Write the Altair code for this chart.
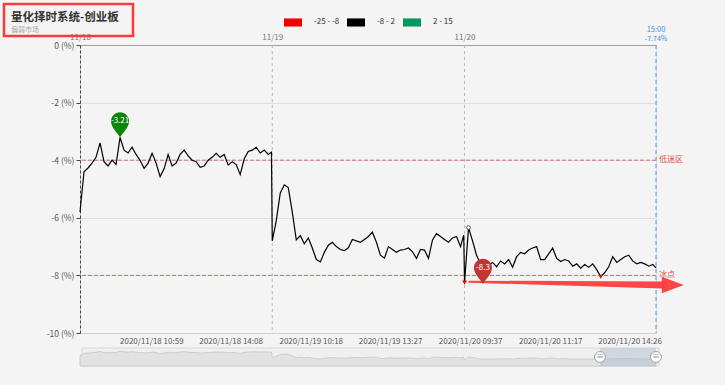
import altair as alt
import pandas as pd

# ---------------- data ----------------
# one value every 5 minutes of trading, last entry = close (15:00) of that day
day1 = [-5.8, -4.4, -4.27, -4.1, -3.9, -3.4, -4.05, -4.2, -4.0, -4.15, -3.21, -3.65,
        -3.75, -3.55, -3.8, -4.0, -4.28, -4.1, -3.76, -4.1, -4.57, -4.3, -3.8, -4.2,
        -4.1, -3.8, -3.65, -3.85, -4.0, -4.05, -4.25, -4.2, -4.0, -3.9, -3.76, -3.9,
        -3.8, -4.17, -4.05, -4.15, -4.5, -3.95, -3.7, -3.65, -3.55, -3.75, -3.65, -3.8,
        -3.72]
day2 = [-6.8, -6.1, -5.14, -4.86, -4.95, -5.8, -6.77, -6.62, -6.9, -6.7, -7.05, -7.45,
        -7.53, -7.2, -6.95, -6.85, -7.0, -7.1, -7.14, -7.04, -6.75, -6.8, -6.85, -6.75,
        -6.65, -6.5, -6.85, -7.3, -7.4, -7.0, -7.1, -7.2, -7.12, -7.1, -7.05, -7.18,
        -7.41, -7.1, -7.12, -7.41, -6.77, -6.55, -6.65, -6.75, -6.85, -6.7, -6.65, -7.0,
        -6.6]
day3 = [-8.25, -6.34, -6.8, -7.3, -7.6, -7.7, -7.64, -7.55, -7.7, -7.5, -7.6, -7.45,
        -7.72, -7.35, -7.2, -7.25, -7.12, -7.05, -7.0, -7.45, -7.45, -7.25, -7.05, -7.41,
        -7.52, -7.45, -7.5, -7.68, -7.6, -7.75, -7.62, -7.72, -7.6, -7.8, -8.05, -7.9,
        -7.7, -7.35, -7.55, -7.45, -7.35, -7.3, -7.5, -7.6, -7.55, -7.6, -7.68, -7.62,
        -7.74]

day_labels = ["11/18", "11/19", "11/20"]
day_start = [0, 240, 480]

time_idx = [89, 188, 288, 387, 487, 587, 686]
time_labels = ["2020/11/18 10:59", "2020/11/18 14:08", "2020/11/19 10:18",
               "2020/11/19 13:27", "2020/11/20 09:37", "2020/11/20 11:17",
               "2020/11/20 14:26"]

y_ticks = [0, -2, -4, -6, -8, -10]
zone_vals = [-4, -8]
zone_labels = ["低迷区", "冰点"]

marker_idx = [50, 503]
marker_vals = [-3.21, -8.3]
marker_colors = ["#0a870a", "#c23531"]

legend_labels = ["-25 - -8", "-8 - 2", "2 - 15"]
legend_colors = ["#f20000", "#000000", "#00995e"]

arrow_idx = [486, 727]
arrow_vals = [-8.22, -8.33]
arrow_head_idx = [740]
arrow_head_val = [-8.33]

zoom_start, zoom_end = 649, 719

title_text = "量化择时系统-创业板"
subtitle_text = "偏弱市场"

# ---------------- build tables ----------------
idx_all, val_all = [], []
for d, vals in enumerate([day1, day2, day3]):
    for j, v in enumerate(vals[:-1]):
        idx_all.append(d * 240 + 5 * j)
        val_all.append(v)
    idx_all.append(d * 240 + 239)
    val_all.append(vals[-1])
df = pd.DataFrame({"idx": idx_all, "v": val_all})

last_idx = int(df.idx.max())
close_df = pd.DataFrame({"idx": [last_idx], "close": [df.v.iloc[-1]]})
dips = df[df.v < -8]
d3 = df[df.idx >= 480]
peak3 = d3.loc[[d3.v.idxmax()]]

days_df = pd.DataFrame({"idx": day_start, "lab": day_labels})
zones_df = pd.DataFrame({"v": zone_vals, "lab": zone_labels, "idx": [last_idx] * 2})
markers_df = pd.DataFrame({"idx": marker_idx, "v": marker_vals, "col": marker_colors})
arrow_df = pd.DataFrame({"idx": arrow_idx, "v": arrow_vals})
head_df = pd.DataFrame({"idx": arrow_head_idx, "v": arrow_head_val})
sel_df = pd.DataFrame({"s": [zoom_start], "e": [zoom_end]})
handles_df = pd.DataFrame({"idx": [zoom_start, zoom_end]})
one = pd.DataFrame({"k": [0]})

# ---------------- styles ----------------
FONT = "Noto Sans CJK SC"
BG = "#f4f4f4"
W, H = 576, 288

PIN = ("M0,0 C-0.25,-0.45 -0.75,-0.8 -0.75,-1.35 "
       "A0.75,0.75 0 1 1 0.75,-1.35 C0.75,-0.8 0.25,-0.45 0,0 Z")
RECT = "M-1,-0.45 L1,-0.45 L1,0.45 L-1,0.45 Z"
TRI = "M-1,-0.75 L1,0 L-1,0.75 Z"

xscale = alt.Scale(domain=[0, last_idx], nice=False, zero=False)
yscale = alt.Scale(domain=[-10, 0], nice=False, zero=False)
slider_y = alt.Scale(domain=[-11.5, -1.5], range=[H + 33, H + 15], nice=False, zero=False)

def X(field="idx:Q", axis=None):
    return alt.X(field, scale=xscale, axis=axis, title=None)

def Y(field="v:Q", axis=None):
    return alt.Y(field, scale=yscale, axis=axis, title=None)

bottom_axis = alt.Axis(
    values=time_idx,
    labelExpr="%s[indexof(%s, datum.value)]" % (str(time_labels), str(time_idx)),
    grid=False, ticks=False, domainColor="#d0d0d0", labelFontSize=8,
    labelColor="#555", labelPadding=4, labelFlush=False, labelOverlap=False,
    labelFont=FONT, title=None)
top_axis = alt.Axis(
    orient="top", values=day_start,
    labelExpr="%s[indexof(%s, datum.value)]" % (str(day_labels), str(day_start)),
    grid=False, ticks=False, domainColor="#a0a0a0", labelFontSize=8,
    labelColor="#777", labelPadding=4, labelFlush=False, labelOverlap=False,
    labelFont=FONT, title=None)
y_axis = alt.Axis(
    orient="left", values=y_ticks, labelExpr="datum.value + ' (%)'", grid=True,
    gridColor="#e0e0e0", domainColor="#444", domainDash=[3, 2], tickColor="#444",
    tickSize=4, labelPadding=2, labelFontSize=8.5, labelColor="#555", labelFont=FONT,
    title=None)

# ---------------- main plot layers ----------------
zone_rules = alt.Chart(zones_df).mark_rule(
    color="#d46a6a", strokeDash=[4, 2], strokeWidth=1).encode(y=Y())
zone_text = alt.Chart(zones_df).mark_text(
    align="left", baseline="middle", dx=3, color="#d9534f", fontSize=8, font=FONT
).encode(x=X(), y=Y(), text="lab:N")

day_rules = alt.Chart(days_df).mark_rule(
    color="#b8b8b8", strokeDash=[3, 3], strokeWidth=1
).encode(x=X(axis=top_axis), opacity=alt.condition("datum.idx > 0", alt.value(1), alt.value(0)))

end_rule = alt.Chart(close_df).mark_rule(
    color="#5b9bd5", strokeDash=[4, 3], strokeWidth=1).encode(x=X())

line = alt.Chart(df).mark_line(color="#000000", strokeWidth=1.2, clip=False).encode(
    x=X(axis=bottom_axis), y=Y(axis=y_axis))

dip_pts = alt.Chart(dips).mark_point(
    shape="triangle-down", filled=True, color="#f20000", size=22, opacity=1
).encode(x=X(), y=Y())

peak_pt = alt.Chart(peak3).mark_point(
    shape="circle", filled=True, fill="#ffffff", stroke="#555", strokeWidth=1,
    size=14, opacity=1).encode(x=X(), y=Y())

arrow = alt.Chart(arrow_df).transform_calculate(
    w="2 + 5 * (datum.idx - %d) / %d" % (arrow_idx[0], arrow_idx[1] - arrow_idx[0])
).mark_trail(color="#ff3b3b", opacity=0.95, clip=False).encode(
    x=X(), y=Y(), size=alt.Size("w:Q", scale=None, legend=None))
arrow_head = alt.Chart(head_df).mark_point(
    shape=TRI, filled=True, color="#ff3b3b", size=484, opacity=0.95, strokeWidth=0,
    clip=False).encode(x=X(), y=Y())

pins = alt.Chart(markers_df).mark_point(
    shape=PIN, filled=True, size=576, opacity=1, strokeWidth=0
).encode(x=X(), y=Y(), fill=alt.Fill("col:N", scale=None, legend=None))
pin_text = alt.Chart(markers_df).transform_calculate(
    lab="toString(datum.v)"
).mark_text(color="#ffffff", fontSize=8, dy=-16, baseline="middle", font=FONT
).encode(x=X(), y=Y(), text="lab:N")

end_time = alt.Chart(close_df).mark_text(
    text="15:00", color="#4a90d9", fontSize=7.5, baseline="middle", font=FONT
).encode(x=X(), y=alt.value(-15))
end_val = alt.Chart(close_df).transform_calculate(
    lab="toString(datum.close) + '%'"
).mark_text(color="#4a90d9", fontSize=7, baseline="middle", font=FONT
).encode(x=X(), y=alt.value(-6.5), text="lab:N")

# ---------------- data-zoom slider ----------------
slider_box = alt.Chart(one).mark_rect(
    fill="#f0f0f0", stroke="#d8d8d8", strokeWidth=1).encode(
    x=alt.value(2), x2=alt.value(W + 3), y=alt.value(H + 15), y2=alt.value(H + 33))
slider_area = alt.Chart(df).mark_area(
    fill="#e2e2e2", stroke="#c4c4c4", strokeWidth=0.8, clip=False).encode(
    x=X(), y=alt.Y("v:Q", scale=slider_y, axis=None), y2=alt.Y2Datum(-11.5))
slider_sel = alt.Chart(sel_df).mark_rect(fill="#a7b7cc", opacity=0.45).encode(
    x=X("s:Q"), x2="e:Q", y=alt.value(H + 15), y2=alt.value(H + 33))
slider_handles = alt.Chart(handles_df).mark_point(
    shape="circle", filled=True, fill="#ffffff", stroke="#a0a0a0", strokeWidth=1,
    size=120, opacity=1).encode(x=X(), y=alt.value(H + 24))
slider_marks = alt.Chart(handles_df).mark_text(
    text="≡", color="#999", fontSize=8, baseline="middle").encode(
    x=X(), y=alt.value(H + 24))

# ---------------- legend, title, annotation box ----------------
legend_layer = alt.Chart(pd.DataFrame({"cat": legend_labels})).transform_filter(
    "false").mark_point(filled=True, opacity=1).encode(
    x=alt.value(0), y=alt.value(0),
    color=alt.Color("cat:N", scale=alt.Scale(domain=legend_labels, range=legend_colors),
                    legend=alt.Legend(
                        orient="none", legendX=204, legendY=-32, direction="horizontal",
                        title=None, symbolType=RECT, symbolSize=324,
                        symbolStrokeWidth=0, symbolOpacity=1, labelFontSize=8,
                        labelColor="#333", labelFont=FONT, labelOffset=12,
                        columnPadding=7)))

title_mark = alt.Chart(one).mark_text(
    text=title_text, align="left", baseline="alphabetic", fontSize=11.5,
    fontWeight="bold", color="#333", font=FONT).encode(x=alt.value(-69), y=alt.value(-24))
subtitle_mark = alt.Chart(one).mark_text(
    text=subtitle_text, align="left", baseline="middle", fontSize=7,
    color="#aaaaaa", font=FONT).encode(x=alt.value(-69), y=alt.value(-15))
red_box = alt.Chart(one).mark_rect(
    fillOpacity=0, stroke="#ff3a3a", strokeWidth=2.5).encode(
    x=alt.value(-76), x2=alt.value(53), y=alt.value(-41), y2=alt.value(-9))

chart = alt.layer(
    zone_rules, day_rules, end_rule, line, dip_pts, peak_pt, zone_text,
    arrow, arrow_head, pins, pin_text, end_time, end_val,
    slider_box, slider_area, slider_sel, slider_handles, slider_marks,
    legend_layer, title_mark, subtitle_mark, red_box
).resolve_scale(y="independent").resolve_axis(x="independent", y="independent").properties(
    width=W, height=H,
    autosize=alt.AutoSizeParams(type="none"),
    padding={"left": 80, "top": 45, "right": 69, "bottom": 52},
    background=BG,
).configure_view(stroke=None).configure(font=FONT)

chart.save("out.html", embed_options={"renderer": "svg", "actions": False})
